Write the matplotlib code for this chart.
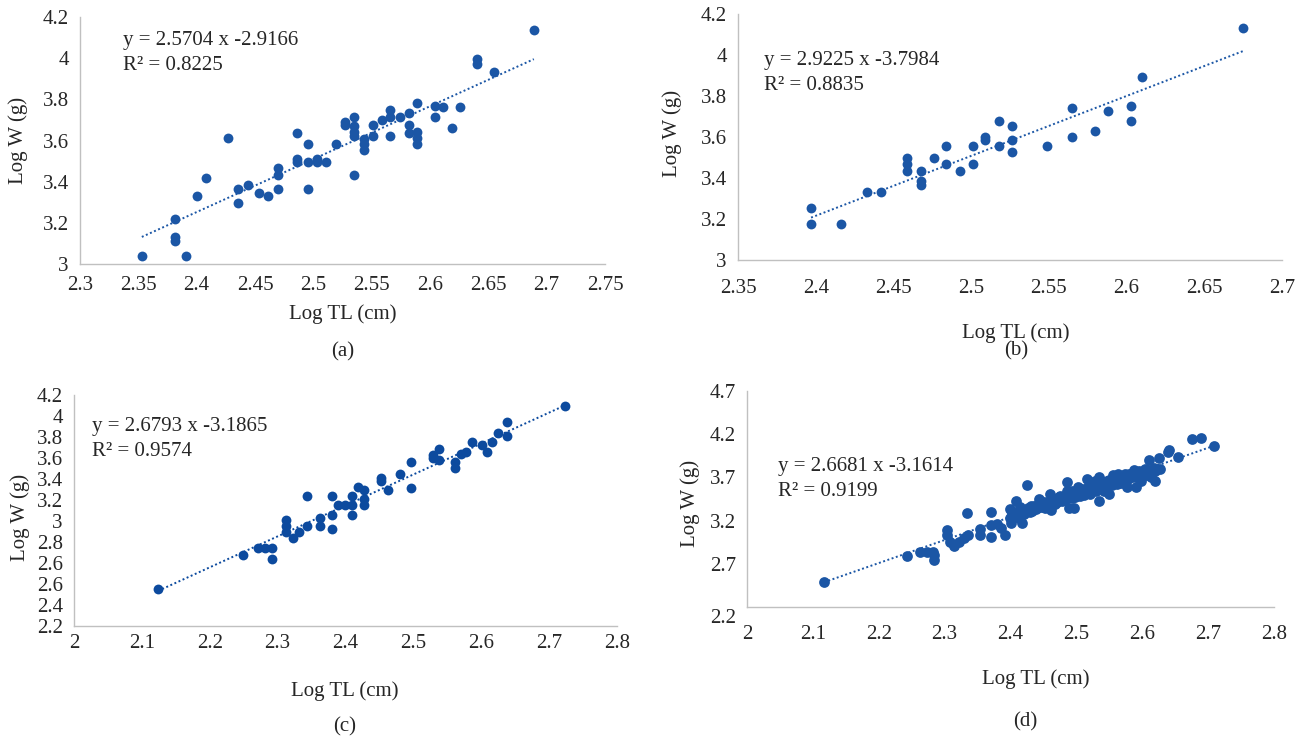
import numpy as np
import matplotlib.pyplot as plt
from matplotlib.transforms import ScaledTranslation

plt.rcParams['font.family'] = ['Liberation Serif', 'DejaVu Serif']

# ---- panel (a) ----
a_x = [2.353, 2.391, 2.381, 2.381, 2.381, 2.400, 2.408, 2.427, 2.435, 2.435,
       2.444, 2.453, 2.461, 2.470, 2.470, 2.470, 2.486, 2.486, 2.486, 2.495,
       2.495, 2.495, 2.503, 2.503, 2.511, 2.519, 2.527, 2.527, 2.535, 2.535,
       2.535, 2.535, 2.535, 2.543, 2.543, 2.543, 2.551, 2.551, 2.559, 2.566,
       2.566, 2.566, 2.574, 2.582, 2.582, 2.582, 2.589, 2.589, 2.589, 2.589,
       2.604, 2.604, 2.611, 2.619, 2.626, 2.640, 2.640, 2.655, 2.689]
a_y = [3.040, 3.040, 3.133, 3.112, 3.217, 3.330, 3.416, 3.610, 3.364, 3.295,
       3.383, 3.346, 3.330, 3.464, 3.432, 3.364, 3.636, 3.508, 3.494, 3.583,
       3.494, 3.364, 3.508, 3.494, 3.494, 3.583, 3.689, 3.675, 3.712, 3.670,
       3.639, 3.623, 3.432, 3.605, 3.583, 3.553, 3.675, 3.623, 3.699, 3.748,
       3.712, 3.623, 3.712, 3.736, 3.675, 3.636, 3.782, 3.639, 3.610, 3.583,
       3.770, 3.712, 3.761, 3.663, 3.761, 3.998, 3.971, 3.932, 4.136]
a_fit = (2.5704, -2.9166, 0.8225)
a_xticks = [2.3, 2.35, 2.4, 2.45, 2.5, 2.55, 2.6, 2.65, 2.7, 2.75]
a_yticks = [3, 3.2, 3.4, 3.6, 3.8, 4, 4.2]

# ---- panel (b) ----
b_x = [2.397, 2.397, 2.416, 2.433, 2.442, 2.459, 2.459, 2.459, 2.468, 2.468,
       2.468, 2.476, 2.484, 2.484, 2.493, 2.501, 2.501, 2.509, 2.509, 2.518,
       2.518, 2.526, 2.526, 2.526, 2.549, 2.565, 2.565, 2.580, 2.588, 2.603,
       2.603, 2.610, 2.675]
b_y = [3.255, 3.177, 3.177, 3.331, 3.331, 3.496, 3.466, 3.435, 3.435, 3.385,
       3.365, 3.496, 3.556, 3.466, 3.435, 3.556, 3.466, 3.600, 3.585, 3.679,
       3.556, 3.653, 3.585, 3.529, 3.556, 3.741, 3.600, 3.627, 3.729, 3.752,
       3.679, 3.895, 4.134]
b_fit = (2.9225, -3.7984, 0.8835)
b_xticks = [2.35, 2.4, 2.45, 2.5, 2.55, 2.6, 2.65, 2.7]
b_yticks = [3, 3.2, 3.4, 3.6, 3.8, 4, 4.2]

# ---- panel (c) ----
c_x = [2.124, 2.249, 2.271, 2.281, 2.291, 2.291, 2.312, 2.312, 2.312, 2.322,
       2.332, 2.343, 2.343, 2.362, 2.362, 2.380, 2.380, 2.380, 2.389, 2.399,
       2.409, 2.409, 2.409, 2.418, 2.427, 2.427, 2.427, 2.453, 2.453, 2.463,
       2.480, 2.496, 2.496, 2.529, 2.529, 2.538, 2.538, 2.562, 2.562, 2.570,
       2.578, 2.586, 2.601, 2.608, 2.616, 2.624, 2.638, 2.638, 2.723]
c_y = [2.524, 2.815, 2.873, 2.873, 2.873, 2.777, 3.117, 3.062, 3.010, 2.960,
       3.010, 3.324, 3.062, 3.135, 3.062, 3.324, 3.158, 3.039, 3.245, 3.245,
       3.324, 3.245, 3.158, 3.402, 3.379, 3.300, 3.245, 3.484, 3.452, 3.379,
       3.516, 3.623, 3.399, 3.658, 3.678, 3.734, 3.635, 3.617, 3.565, 3.687,
       3.704, 3.792, 3.763, 3.704, 3.792, 3.867, 3.963, 3.844, 4.109]
c_fit = (2.6793, -3.1865, 0.9574)
c_xticks = [2, 2.1, 2.2, 2.3, 2.4, 2.5, 2.6, 2.7, 2.8]
c_ylabels = ['2.2', '2.4', '2.6', '2.6', '2.8', '3', '3.2', '3.4', '3.6', '3.8', '4', '4.2']

# ---- panel (d) ----
d_x = [2.117, 2.243, 2.263, 2.274, 2.282, 2.284, 2.284, 2.304, 2.304, 2.308,
       2.314, 2.322, 2.330, 2.335, 2.334, 2.353, 2.353, 2.370, 2.370, 2.370,
       2.380, 2.385, 2.391, 2.399, 2.399, 2.401, 2.408, 2.415, 2.416, 2.417,
       2.425, 2.433, 2.436, 2.438, 2.444, 2.446, 2.452, 2.460, 2.460, 2.462,
       2.468, 2.473, 2.481, 2.486, 2.486, 2.489, 2.494, 2.497, 2.502, 2.505,
       2.510, 2.516, 2.518, 2.521, 2.526, 2.529, 2.534, 2.534, 2.539, 2.542,
       2.547, 2.550, 2.555, 2.561, 2.563, 2.569, 2.574, 2.577, 2.579, 2.587,
       2.590, 2.590, 2.598, 2.601, 2.606, 2.610, 2.614, 2.619, 2.622, 2.625,
       2.627, 2.639, 2.640, 2.654, 2.675, 2.689, 2.709,
       2.441, 2.449, 2.455, 2.458, 2.465, 2.471, 2.476, 2.478, 2.483, 2.491,
       2.493, 2.496, 2.499, 2.503, 2.507, 2.512, 2.514, 2.517, 2.523, 2.525,
       2.528, 2.531, 2.536, 2.538, 2.544, 2.546, 2.549, 2.552, 2.557, 2.559,
       2.564, 2.566, 2.571, 2.575, 2.581, 2.583, 2.586, 2.593, 2.596, 2.603,
       2.605, 2.611, 2.616, 2.604,
       2.402, 2.405, 2.411, 2.413, 2.419, 2.421, 2.427, 2.429, 2.431, 2.439,
       2.443, 2.447, 2.451, 2.457, 2.463, 2.467, 2.472, 2.475, 2.479, 2.484,
       2.488, 2.492, 2.495, 2.498, 2.501, 2.506, 2.509, 2.513, 2.515, 2.519,
       2.522, 2.527, 2.530, 2.533, 2.537, 2.540, 2.543, 2.548, 2.551, 2.554,
       2.558, 2.562, 2.565, 2.568, 2.572, 2.576, 2.580, 2.584, 2.588, 2.592,
       2.595, 2.600, 2.608, 2.612, 2.618, 2.620]
d_y = [2.487, 2.785, 2.840, 2.840, 2.840, 2.801, 2.742, 3.087, 3.028, 2.958,
       2.911, 2.958, 2.997, 3.036, 3.291, 3.107, 3.028, 3.299, 3.154, 3.005,
       3.162, 3.115, 3.028, 3.330, 3.232, 3.174, 3.429, 3.358, 3.272, 3.174,
       3.613, 3.311, 3.370, 3.330, 3.448, 3.389, 3.350, 3.507, 3.429, 3.319,
       3.389, 3.468, 3.487, 3.644, 3.546, 3.350, 3.546, 3.350, 3.585, 3.487,
       3.527, 3.683, 3.585, 3.507, 3.625, 3.664, 3.703, 3.429, 3.605, 3.546,
       3.664, 3.507, 3.723, 3.625, 3.742, 3.664, 3.742, 3.585, 3.683, 3.782,
       3.703, 3.585, 3.664, 3.742, 3.782, 3.899, 3.703, 3.664, 3.801, 3.919,
       3.801, 3.997, 4.017, 3.938, 4.142, 4.154, 4.068,
       3.362, 3.401, 3.372, 3.418, 3.441, 3.412, 3.452, 3.428, 3.471, 3.505,
       3.462, 3.521, 3.488, 3.532, 3.551, 3.498, 3.561, 3.536, 3.578, 3.551,
       3.602, 3.571, 3.628, 3.583, 3.641, 3.602, 3.668, 3.631, 3.652, 3.688,
       3.661, 3.702, 3.681, 3.712, 3.701, 3.738, 3.722, 3.742, 3.718, 3.761,
       3.731, 3.768, 3.782, 3.792,
       3.285, 3.240, 3.300, 3.232, 3.318, 3.280, 3.345, 3.300, 3.372, 3.360,
       3.398, 3.352, 3.420, 3.395, 3.455, 3.418, 3.440, 3.488, 3.470, 3.445,
       3.500, 3.480, 3.522, 3.470, 3.548, 3.515, 3.566, 3.540, 3.515, 3.560,
       3.600, 3.582, 3.548, 3.620, 3.600, 3.645, 3.580, 3.625, 3.660, 3.610,
       3.675, 3.650, 3.690, 3.640, 3.720, 3.690, 3.740, 3.710, 3.760, 3.725,
       3.770, 3.755, 3.790, 3.745, 3.805, 3.770]
d_fit = (2.6681, -3.1614, 0.9199)
d_xticks = [2, 2.1, 2.2, 2.3, 2.4, 2.5, 2.6, 2.7, 2.8]
d_yticks = [2.2, 2.7, 3.2, 3.7, 4.2, 4.7]

W, H = 1298, 740
fig = plt.figure(figsize=(W / 100, H / 100), dpi=100)

blue = '#1b56a5'
dark_blue = '#0c4a9e'
txt = '#262626'
axis_col = '#c0c0c0'
FS = 15


def px_box(l, t, r, b):
    return [l / W, 1 - b / H, (r - l) / W, (b - t) / H]


def ftext(x, y, s, **kw):
    kw.setdefault('fontsize', FS)
    kw.setdefault('color', txt)
    fig.text(x / W, 1 - y / H, s, **kw)


def panel(box, xs, ys, fit, xlim, ylim, color, xpad, size=50):
    ax = fig.add_axes(px_box(*box))
    ax.scatter(xs, ys, s=size, color=color, linewidths=0, zorder=3, clip_on=False)
    slope, icpt, r2 = fit
    lx = np.array([min(xs), max(xs)])
    ax.plot(lx, slope * lx + icpt, linestyle=(0, (1, 1.3)), color=color, lw=1.4, zorder=2)
    ax.set_xlim(*xlim)
    ax.set_ylim(*ylim)
    for s in ['top', 'right']:
        ax.spines[s].set_visible(False)
    for s in ['left', 'bottom']:
        ax.spines[s].set_color(axis_col)
        ax.spines[s].set_linewidth(1.0)
    ax.tick_params(length=0, labelsize=FS, labelcolor=txt)
    ax.tick_params(axis='x', pad=xpad)
    ax.tick_params(axis='y', pad=8)
    return ax


def fmt(vals):
    return [f'{v:g}' for v in vals]


# (a)
ax = panel((80, 17, 605, 264), a_x, a_y, a_fit, (2.3, 2.75), (3, 4.2), blue, 9)
ax.set_xticks(a_xticks, fmt(a_xticks))
ax.set_yticks(a_yticks, fmt(a_yticks))
ftext(123, 41, f'y = {a_fit[0]:.4f} x {a_fit[1]:.4f}', va='center')
ftext(123, 66, f'R² = {a_fit[2]:.4f}', va='center')
ftext(18, 140, 'Log W (g)', rotation=90, ha='center', va='center')
ftext(343, 314, 'Log TL (cm)', ha='center', va='center')
ftext(343, 352, '(a)', ha='center', va='center')

# (b)
ax = panel((738, 14, 1282, 260), b_x, b_y, b_fit, (2.35, 2.7), (3, 4.2), blue, 14)
ax.set_xticks(b_xticks, fmt(b_xticks))
ax.set_yticks(b_yticks, fmt(b_yticks))
ftext(764, 61, f'y = {b_fit[0]:.4f} x {b_fit[1]:.4f}', va='center')
ftext(764, 86, f'R² = {b_fit[2]:.4f}', va='center')
ftext(672, 133, 'Log W (g)', rotation=90, ha='center', va='center')
ftext(1016, 333, 'Log TL (cm)', ha='center', va='center')
ftext(1016, 351, '(b)', ha='center', va='center')

# (c)
ax = panel((74, 395, 617, 626), c_x, c_y, c_fit, (2, 2.8), (2.2, 4.2), dark_blue, 6)
ax.set_xticks(c_xticks, fmt(c_xticks))
ax.set_yticks(np.linspace(2.2, 4.2, len(c_ylabels)), c_ylabels)
ftext(92, 427, f'y = {c_fit[0]:.4f} x {c_fit[1]:.4f}', va='center')
ftext(92, 452, f'R² = {c_fit[2]:.4f}', va='center')
ftext(20, 517, 'Log W (g)', rotation=90, ha='center', va='center')
ftext(345, 691, 'Log TL (cm)', ha='center', va='center')
ftext(345, 727, '(c)', ha='center', va='center')

# (d)
ax = panel((747, 391, 1274, 607), d_x, d_y, d_fit, (2, 2.8), (2.2, 4.7), blue, 13, size=60)
ax.set_xticks(d_xticks, fmt(d_xticks))
ax.set_yticks(d_yticks, fmt(d_yticks))
# bottom y label sits a little below the axis line in the original
low = ax.get_yticklabels()[0]
low.set_transform(low.get_transform() + ScaledTranslation(0, -0.09, fig.dpi_scale_trans))
ftext(778, 467, f'y = {d_fit[0]:.4f} x {d_fit[1]:.4f}', va='center')
ftext(778, 492, f'R² = {d_fit[2]:.4f}', va='center')
ftext(690, 503, 'Log W (g)', rotation=90, ha='center', va='center')
ftext(1036, 679, 'Log TL (cm)', ha='center', va='center')
ftext(1025, 722, '(d)', ha='center', va='center')

fig.savefig('out.png', dpi=100, facecolor='white')
